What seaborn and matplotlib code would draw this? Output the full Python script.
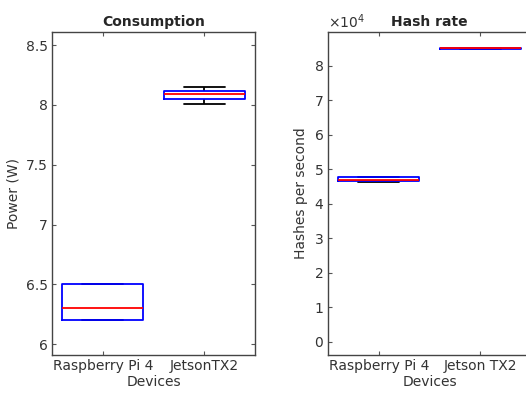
import pandas as pd
import matplotlib
matplotlib.use('Agg')
import matplotlib.pyplot as plt
import matplotlib.ticker as mticker
import seaborn as sns

# Samples
power_devices = ['Raspberry Pi 4', 'JetsonTX2']
power_rpi = [6.2, 6.2, 6.3, 6.5, 6.5]
power_jetson = [8.01, 8.05, 8.09, 8.12, 8.15]

hash_devices = ['Raspberry Pi 4', 'Jetson TX2']
hash_rpi = [46300, 46500, 47000, 47600, 47800]
hash_jetson = [84800, 84900, 85000, 85100, 85200]

df_power = pd.DataFrame({
    'device': [power_devices[0]] * len(power_rpi) + [power_devices[1]] * len(power_jetson),
    'value': power_rpi + power_jetson,
})
df_hash = pd.DataFrame({
    'device': [hash_devices[0]] * len(hash_rpi) + [hash_devices[1]] * len(hash_jetson),
    'value': hash_rpi + hash_jetson,
})

sns.set_style('white')
plt.rcParams['font.family'] = ['DejaVu Sans']

fig = plt.figure(figsize=(5.26, 3.97), dpi=100)
ax1 = fig.add_axes([0.0989, 0.1058, 0.386, 0.8136])
ax2 = fig.add_axes([0.6236, 0.1058, 0.386, 0.8136])

box_kws = dict(x='device', y='value', fill=False, width=0.8, color='blue',
               linewidth=1.3, showfliers=False,
               boxprops=dict(color='blue', zorder=3),
               medianprops=dict(color='red', linewidth=1.3, zorder=4),
               whiskerprops=dict(color='black', linewidth=1.3, zorder=2),
               capprops=dict(color='black', linewidth=1.3, zorder=2))

sns.boxplot(data=df_power, order=power_devices, ax=ax1, **box_kws)
sns.boxplot(data=df_hash, order=hash_devices, ax=ax2, **box_kws)

ax1.set_ylim(5.91, 8.61)
ax1.set_yticks([6, 6.5, 7, 7.5, 8, 8.5])
ax1.set_yticklabels(['6', '6.5', '7', '7.5', '8', '8.5'])
ax1.set_title('Consumption', fontsize=10, fontweight='bold', pad=4)
ax1.set_ylabel('Power (W)', fontsize=10, color='#333333')

ax2.set_ylim(-3800, 89700)
ax2.set_yticks([i * 10000 for i in range(9)])
fmt = mticker.ScalarFormatter(useMathText=True)
fmt.set_powerlimits((0, 0))
ax2.yaxis.set_major_formatter(fmt)
ax2.yaxis.get_offset_text().set_fontsize(10)
ax2.yaxis.get_offset_text().set_color('#555555')
ax2.set_title('Hash rate', fontsize=10, fontweight='bold', pad=4)
ax2.set_ylabel('Hashes per second', fontsize=10, color='#333333')

for ax in (ax1, ax2):
    ax.set_xlim(-0.5, 1.5)
    ax.set_xlabel('Devices', fontsize=10, color='#333333', labelpad=1)
    ax.tick_params(direction='in', length=3, width=0.8, labelsize=10,
                   colors='#555555', labelcolor='#333333',
                   top=True, right=True, left=True, bottom=True, pad=3)
    for s in ax.spines.values():
        s.set_color('#444444')
        s.set_linewidth(1.0)

fig.savefig('out.png', dpi=100)
